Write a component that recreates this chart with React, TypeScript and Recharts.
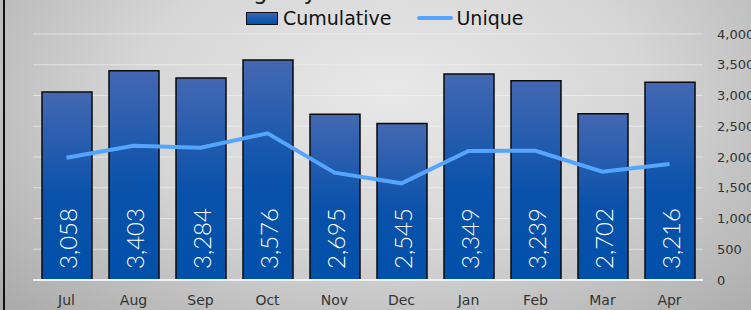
import React from 'react';
import { ComposedChart, Bar, Line, XAxis, YAxis, CartesianGrid, LabelList } from 'recharts';

const months = ['Jul', 'Aug', 'Sep', 'Oct', 'Nov', 'Dec', 'Jan', 'Feb', 'Mar', 'Apr'];
const cumulative = [3058, 3403, 3284, 3576, 2695, 2545, 3349, 3239, 2702, 3216];
const unique = [1989, 2184, 2151, 2385, 1745, 1572, 2098, 2102, 1761, 1886];
const yTicks = [0, 500, 1000, 1500, 2000, 2500, 3000, 3500, 4000];

const data = months.map((m, i) => ({ month: m, cumulative: cumulative[i], unique: unique[i] }));

const fmt = (v: number) => v.toLocaleString('en-US');

const BarLabel = (props: any) => {
  const { x, y, width, height, value } = props;
  const cx = x + width / 2;
  const by = y + height - 11;
  return (
    <text
      x={cx}
      y={by}
      transform={`rotate(-90 ${cx} ${by})`}
      textAnchor="start"
      dominantBaseline="central"
      fill="#ffffff"
      fontSize={24}
      fontWeight={300}
      fontFamily="Lato, 'Open Sans', sans-serif"
    >
      {fmt(value)}
    </text>
  );
};

export default function App() {
  return (
    <div
      style={{
        position: 'absolute',
        left: 0,
        top: 0,
        width: 751,
        height: 310,
        overflow: 'hidden',
        background: 'radial-gradient(ellipse 75% 110% at 52% 30%, #e8e8e8 0%, #d6d6d6 45%, #a4a4a4 100%)',
      }}
    >
      <div style={{ position: 'absolute', left: 3, top: 0, width: 2, height: 310, background: '#111' }} />
      <svg width={751} height={12} style={{ position: 'absolute', left: 0, top: 0 }}>
        <text x={210} y={-1} fontSize={23} fill="#222" fontFamily="'DejaVu Sans', sans-serif">Usage by Month</text>
      </svg>
      <div
        style={{
          position: 'absolute',
          left: 246,
          top: 7,
          display: 'flex',
          alignItems: 'center',
          fontFamily: "'DejaVu Sans', sans-serif",
          fontSize: 19,
          color: '#111',
          whiteSpace: 'nowrap',
        }}
      >
        <div style={{ width: 30, height: 11, background: 'linear-gradient(#3a64b4, #0050aa)', border: '1px solid #111', marginRight: 5 }} />
        <span>Cumulative</span>
        <div style={{ width: 36, height: 4, background: '#55a5ff', borderRadius: 2, marginLeft: 26, marginRight: 3 }} />
        <span>Unique</span>
      </div>
      <ComposedChart
        width={751}
        height={310}
        data={data}
        margin={{ top: 34, right: 0, bottom: 0, left: 33 }}
        style={{ position: 'absolute', left: 0, top: 0 }}
      >
        <defs>
          <linearGradient id="barGrad" x1="0" y1="0" x2="0" y2="1">
            <stop offset="0%" stopColor="#4468b2" />
            <stop offset="55%" stopColor="#0a52ab" />
            <stop offset="100%" stopColor="#0050aa" />
          </linearGradient>
        </defs>
        <CartesianGrid vertical={false} stroke="#f4f4f4" strokeOpacity={0.6} strokeWidth={1} />
        <XAxis
          dataKey="month"
          height={30}
          tickLine={false}
          tickSize={0}
          tickMargin={15}
          axisLine={{ stroke: '#f2f2f2', strokeWidth: 2 }}
          tick={{ fill: '#333', fontSize: 14, fontFamily: "'DejaVu Sans', sans-serif" }}
          interval={0}
        />
        <YAxis
          orientation="right"
          width={48}
          domain={[0, 4000]}
          ticks={yTicks}
          tickFormatter={fmt}
          tickLine={false}
          tickSize={0}
          tickMargin={14}
          axisLine={false}
          tick={{ fill: '#333', fontSize: 13, fontFamily: "'DejaVu Sans', sans-serif", textAnchor: 'start' }}
        />
        <Bar dataKey="cumulative" barSize={50} fill="url(#barGrad)" stroke="#0a0a0a" strokeWidth={1.5} isAnimationActive={false}>
          <LabelList dataKey="cumulative" content={BarLabel} />
        </Bar>
        <Line dataKey="unique" type="linear" stroke="#55a5ff" strokeWidth={4} dot={false} isAnimationActive={false} />
      </ComposedChart>
    </div>
  );
}
